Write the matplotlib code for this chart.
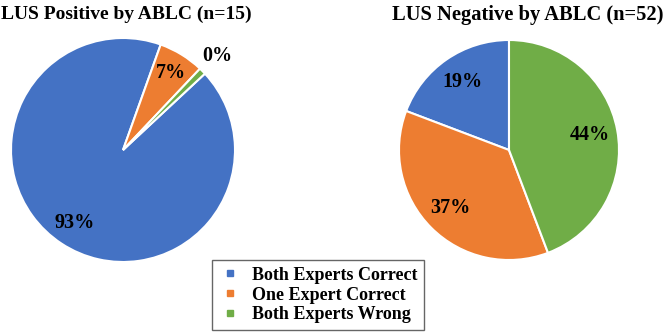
import numpy as np
import matplotlib.pyplot as plt
from matplotlib.lines import Line2D

categories = ["Both Experts Correct", "One Expert Correct", "Both Experts Wrong"]
colors = ["#4472C4", "#ED7D31", "#70AD47"]

# counts per group (n=15 and n=52); the 0% slice is drawn as a thin sliver
pos_values = [14, 1, 0.15]
pos_labels = ["93%", "7%", "0%"]
neg_values = [10, 19, 23]
neg_labels = ["19%", "37%", "44%"]

plt.rcParams['font.family'] = ['Liberation Serif', 'DejaVu Serif']

W, H = 666, 336
fig = plt.figure(figsize=(W / 100, H / 100), dpi=100)


def pie_axes(cx, cy, r):
    # cx, cy in pixels from top-left
    return fig.add_axes([(cx - r) / W, (H - cy - r) / H, 2 * r / W, 2 * r / H])


wp = dict(edgecolor="white", linewidth=1.5)
tp = dict(fontsize=14.5, fontweight="bold", color="black")

ax1 = pie_axes(123, 150, 112)
wedges, _ = ax1.pie(pos_values, colors=colors, startangle=43, counterclock=False,
                    wedgeprops=wp)
dist1 = [0.78, 0.81, 1.19]
for w, lab, d in zip(wedges, pos_labels, dist1):
    ang = np.deg2rad((w.theta1 + w.theta2) / 2)
    ax1.text(d * np.cos(ang), d * np.sin(ang), lab, ha="center", va="center", **tp)
ax1.set_xlim(-1, 1)
ax1.set_ylim(-1, 1)
ax1.set_aspect("equal")

ax2 = pie_axes(509, 150, 110)
wedges2, _ = ax2.pie(neg_values, colors=colors, startangle=90, counterclock=True,
                     wedgeprops=wp)
for w, lab in zip(wedges2, neg_labels):
    ang = np.deg2rad((w.theta1 + w.theta2) / 2)
    ax2.text(0.75 * np.cos(ang), 0.75 * np.sin(ang), lab, ha="center", va="center", **tp)
ax2.set_xlim(-1, 1)
ax2.set_ylim(-1, 1)
ax2.set_aspect("equal")

fig.text(126 / W, 1 - 14 / H, "LUS Positive by ABLC (n=15)", ha="center", va="center",
         fontsize=14, fontweight="bold")
fig.text(528 / W, 1 - 15 / H, "LUS Negative by ABLC (n=52)", ha="center", va="center",
         fontsize=14.8, fontweight="bold")

handles = [Line2D([], [], marker="s", linestyle="none", markersize=5,
                  markerfacecolor=c, markeredgecolor=c) for c in colors]
leg = fig.legend(handles, categories, loc="center", bbox_to_anchor=(318 / W, 1 - 295 / H),
                 frameon=True, fancybox=False, edgecolor="#404040",
                 prop=dict(size=13, weight="bold"), handletextpad=0.6,
                 labelspacing=0.15, borderpad=0.4, handlelength=1.2)
leg.get_frame().set_linewidth(1.0)

fig.savefig("out.png", dpi=100)
